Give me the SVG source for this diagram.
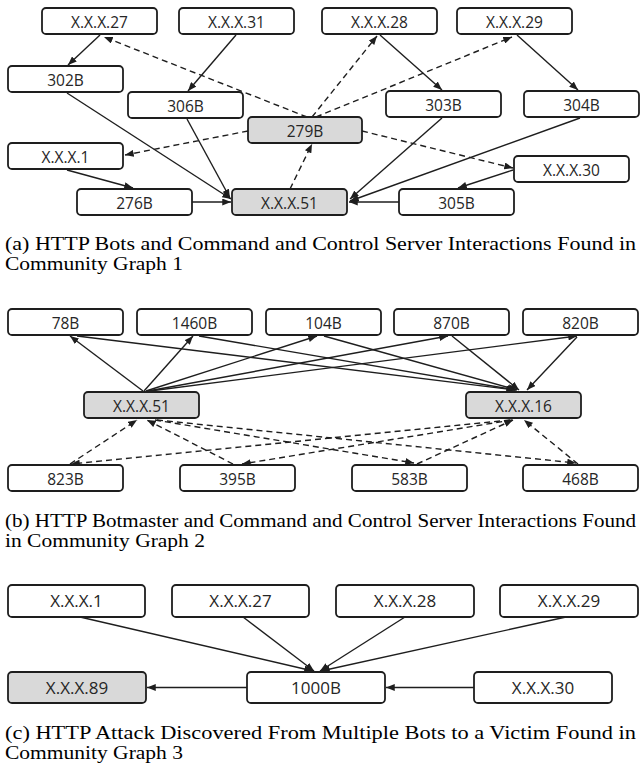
<svg xmlns="http://www.w3.org/2000/svg" width="641" height="769" viewBox="0 0 641 769">
<style>
.b{fill:#fff;stroke:#1e1e1e;stroke-width:1.8}
.g{fill:#d9d9d9;stroke:#1e1e1e;stroke-width:1.8}
.t{font-family:"Open Sans","Liberation Sans",sans-serif;font-size:15.5px;fill:#262626;text-anchor:middle}
.tc{font-family:"Open Sans","Liberation Sans",sans-serif;font-size:17px;fill:#262626;text-anchor:middle}
.s{stroke:#1e1e1e;stroke-width:1.4;fill:none;marker-end:url(#ah)}
.d{stroke:#1e1e1e;stroke-width:1.4;fill:none;stroke-dasharray:6 4;marker-end:url(#ah)}
.cap{font-family:"Liberation Serif","Times New Roman",serif;font-size:19px;fill:#000}
</style>
<defs>
<marker id="ah" viewBox="0 0 10 8" refX="10" refY="4" markerWidth="9" markerHeight="7" markerUnits="userSpaceOnUse" orient="auto"><path d="M0,0 L10,4 L0,8 z" fill="#1e1e1e"/></marker>
</defs>
<rect width="641" height="769" fill="#fff"/>

<g id="connectors">
<!-- (a) solid -->
<path class="s" d="M100,35 L68,65"/>
<path class="s" d="M236,35 L188,91"/>
<path class="s" d="M380,35 L442,90"/>
<path class="s" d="M517,35 L578,90"/>
<path class="s" d="M67,93 L231,199"/>
<path class="s" d="M187,119 L230,198"/>
<path class="s" d="M67,170 L133,188"/>
<path class="s" d="M192,202 L231,202"/>
<path class="s" d="M442,118 L350,199"/>
<path class="s" d="M580,118 L350,201"/>
<path class="s" d="M513,170 L458,188"/>
<path class="s" d="M399,202 L349,202"/>
<!-- (a) dashed -->
<path class="d" d="M290,189 L312,144"/>
<path class="d" d="M307,117 L104,37"/>
<path class="d" d="M312,117 L377,36"/>
<path class="d" d="M316,117 L512,37"/>
<path class="d" d="M248,131 L125,155"/>
<path class="d" d="M362,131 L513,168"/>
<!-- (b) solid -->
<path class="s" d="M143,391 L70,336"/>
<path class="s" d="M144,391 L193,336"/>
<path class="s" d="M146,391 L317,336"/>
<path class="s" d="M148,391 L448,336"/>
<path class="s" d="M150,391 L577,336"/>
<path class="s" d="M77,336 L515,390"/>
<path class="s" d="M199,336 L516,390"/>
<path class="s" d="M324,336 L517,390"/>
<path class="s" d="M452,336 L519,390"/>
<path class="s" d="M577,337 L527,390"/>
<!-- (b) dashed -->
<path class="d" d="M70,464 L137,420"/>
<path class="d" d="M233,464 L147,420"/>
<path class="d" d="M155,420 L414,463"/>
<path class="d" d="M157,420 L576,463"/>
<path class="d" d="M510,420 L71,464"/>
<path class="d" d="M512,420 L242,464"/>
<path class="d" d="M417,464 L513,420"/>
<path class="d" d="M578,464 L524,420"/>
<!-- (c) -->
<path class="s" d="M80,617 L313,671"/>
<path class="s" d="M243,617 L314,671"/>
<path class="s" d="M405,617 L320,671"/>
<path class="s" d="M566,617 L321,671"/>
<path class="s" d="M247,687.5 L147,687.5"/>
<path class="s" d="M474,687.5 L386,687.5"/>
</g>

<!-- (a) nodes -->
<g id="a_27"><rect class="b" x="42" y="8" width="115" height="26" rx="4"/><text class="t" x="99.5" y="28">X.X.X.27</text></g>
<g id="a_31"><rect class="b" x="179" y="8" width="115" height="26" rx="4"/><text class="t" x="236.5" y="28">X.X.X.31</text></g>
<g id="a_28"><rect class="b" x="322" y="8" width="115" height="26" rx="4"/><text class="t" x="379.5" y="28">X.X.X.28</text></g>
<g id="a_29"><rect class="b" x="457" y="8" width="115" height="26" rx="4"/><text class="t" x="514.5" y="28">X.X.X.29</text></g>
<g id="a_302B"><rect class="b" x="8" y="66" width="115" height="26" rx="4"/><text class="t" x="65.5" y="86">302B</text></g>
<g id="a_306B"><rect class="b" x="128" y="92" width="115" height="26" rx="4"/><text class="t" x="185.5" y="112">306B</text></g>
<g id="a_303B"><rect class="b" x="386" y="91" width="115" height="26" rx="4"/><text class="t" x="443.5" y="111">303B</text></g>
<g id="a_304B"><rect class="b" x="524" y="91" width="115" height="26" rx="4"/><text class="t" x="581.5" y="111">304B</text></g>
<g id="a_279B"><rect class="g" x="248" y="117" width="114" height="26" rx="4"/><text class="t" x="305" y="137">279B</text></g>
<g id="a_1"><rect class="b" x="8" y="143" width="115" height="26" rx="4"/><text class="t" x="65.5" y="163">X.X.X.1</text></g>
<g id="a_30"><rect class="b" x="514" y="156" width="115" height="26" rx="4"/><text class="t" x="571.5" y="176">X.X.X.30</text></g>
<g id="a_276B"><rect class="b" x="77" y="189" width="115" height="26" rx="4"/><text class="t" x="134.5" y="209">276B</text></g>
<g id="a_51"><rect class="g" x="232" y="189" width="115" height="26" rx="4"/><text class="t" x="289.5" y="209">X.X.X.51</text></g>
<g id="a_305B"><rect class="b" x="399" y="189" width="115" height="26" rx="4"/><text class="t" x="456.5" y="209">305B</text></g>

<text class="cap" x="5" y="250" textLength="631" lengthAdjust="spacingAndGlyphs">(a) HTTP Bots and Command and Control Server Interactions Found in</text>
<text class="cap" x="5" y="269.5" textLength="178" lengthAdjust="spacingAndGlyphs">Community Graph 1</text>

<!-- (b) nodes -->
<g id="b_78B"><rect class="b" x="8" y="309" width="115" height="26" rx="4"/><text class="t" x="65.5" y="329">78B</text></g>
<g id="b_1460B"><rect class="b" x="137" y="309" width="115" height="26" rx="4"/><text class="t" x="194.5" y="329">1460B</text></g>
<g id="b_104B"><rect class="b" x="266" y="309" width="115" height="26" rx="4"/><text class="t" x="323.5" y="329">104B</text></g>
<g id="b_870B"><rect class="b" x="394" y="309" width="115" height="26" rx="4"/><text class="t" x="451.5" y="329">870B</text></g>
<g id="b_820B"><rect class="b" x="523" y="309" width="115" height="26" rx="4"/><text class="t" x="580.5" y="329">820B</text></g>
<g id="b_51"><rect class="g" x="84" y="392" width="115" height="26" rx="4"/><text class="t" x="141.5" y="412">X.X.X.51</text></g>
<g id="b_16"><rect class="g" x="466" y="392" width="115" height="26" rx="4"/><text class="t" x="523.5" y="412">X.X.X.16</text></g>
<g id="b_823B"><rect class="b" x="8" y="465" width="115" height="26" rx="4"/><text class="t" x="65.5" y="485">823B</text></g>
<g id="b_395B"><rect class="b" x="180" y="465" width="115" height="26" rx="4"/><text class="t" x="237.5" y="485">395B</text></g>
<g id="b_583B"><rect class="b" x="352" y="465" width="115" height="26" rx="4"/><text class="t" x="409.5" y="485">583B</text></g>
<g id="b_468B"><rect class="b" x="523" y="465" width="115" height="26" rx="4"/><text class="t" x="580.5" y="485">468B</text></g>

<text class="cap" x="5" y="527" textLength="631" lengthAdjust="spacingAndGlyphs">(b) HTTP Botmaster and Command and Control Server Interactions Found</text>
<text class="cap" x="5" y="546.5" textLength="200" lengthAdjust="spacingAndGlyphs">in Community Graph 2</text>

<!-- (c) nodes -->
<g id="c_1"><rect class="b" x="8" y="585" width="137" height="32" rx="4"/><text class="tc" x="76.5" y="607">X.X.X.1</text></g>
<g id="c_27"><rect class="b" x="172" y="585" width="137" height="32" rx="4"/><text class="tc" x="240.5" y="607">X.X.X.27</text></g>
<g id="c_28"><rect class="b" x="336" y="585" width="138" height="32" rx="4"/><text class="tc" x="405" y="607">X.X.X.28</text></g>
<g id="c_29"><rect class="b" x="500" y="585" width="138" height="32" rx="4"/><text class="tc" x="569" y="607">X.X.X.29</text></g>
<g id="c_89"><rect class="g" x="8" y="672" width="138" height="31" rx="4"/><text class="tc" x="77" y="693.5">X.X.X.89</text></g>
<g id="c_1000B"><rect class="b" x="247" y="672" width="138" height="31" rx="4"/><text class="tc" x="316" y="693.5">1000B</text></g>
<g id="c_30"><rect class="b" x="474" y="672" width="138" height="31" rx="4"/><text class="tc" x="543" y="693.5">X.X.X.30</text></g>

<text class="cap" x="5" y="739" textLength="631" lengthAdjust="spacingAndGlyphs">(c) HTTP Attack Discovered From Multiple Bots to a Victim Found in</text>
<text class="cap" x="5" y="759" textLength="178" lengthAdjust="spacingAndGlyphs">Community Graph 3</text>
</svg>
